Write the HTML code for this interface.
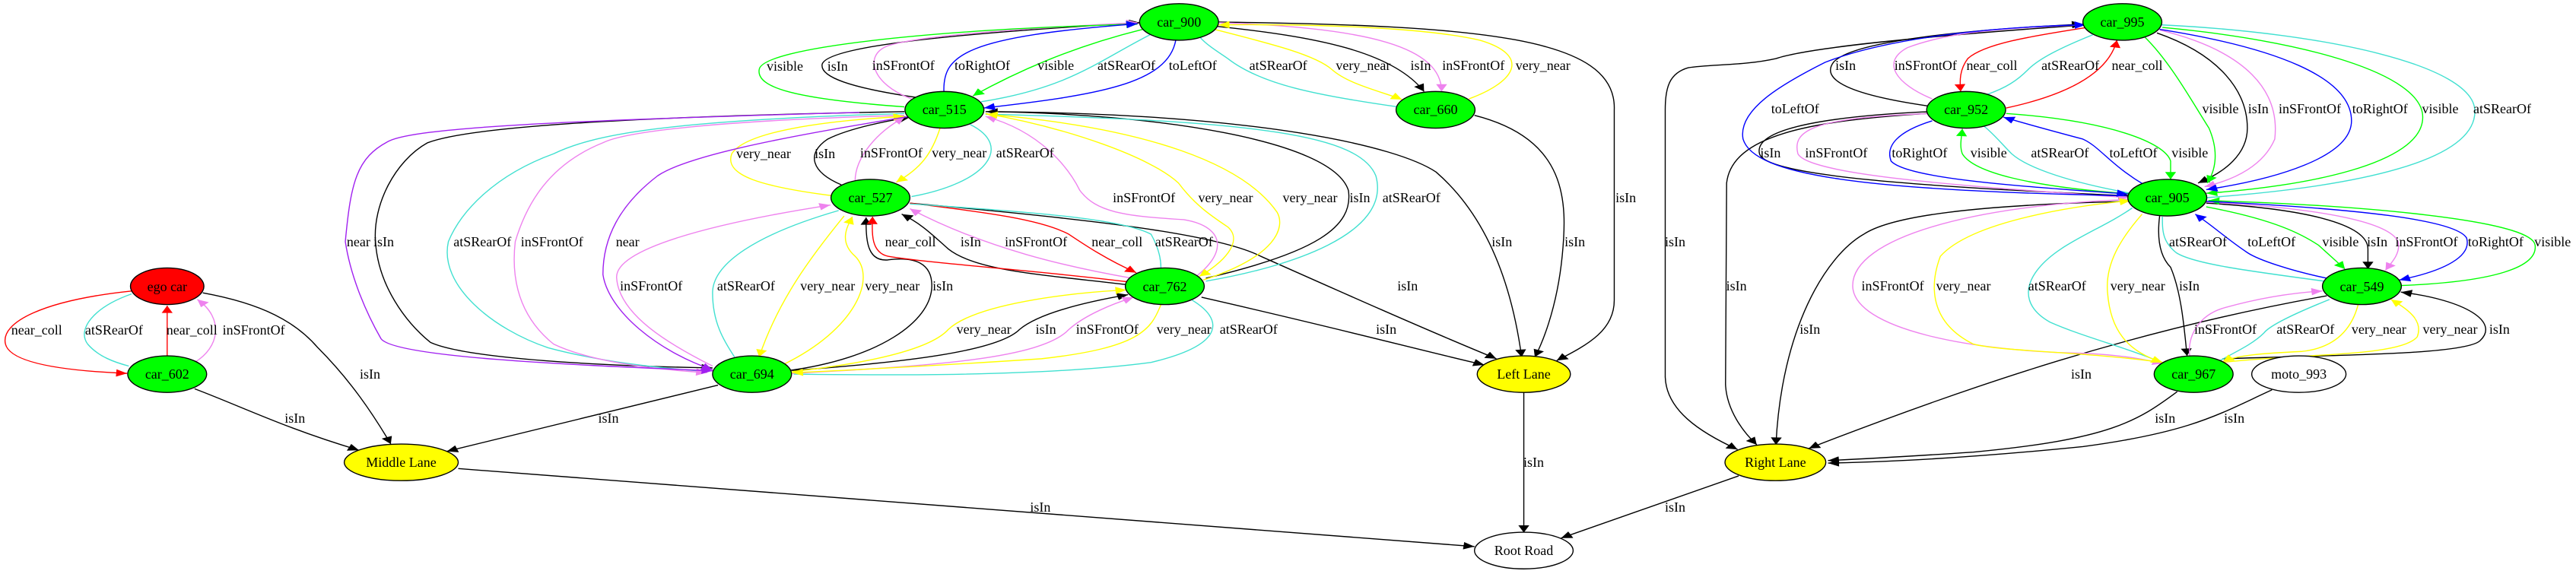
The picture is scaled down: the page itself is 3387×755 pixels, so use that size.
<!DOCTYPE html>
<html><head><meta charset="utf-8"><style>
html,body{margin:0;padding:0;background:#fff;}
#c{position:relative;width:3387px;height:755px;overflow:hidden;background:#fff;}
svg{position:absolute;left:0;top:0;}
.l{position:absolute;left:calc(var(--x)*0.7207px);top:calc(var(--y)*0.4815px);transform:translate(-50%,-50%);font-family:"Liberation Serif",serif;font-size:18px;color:#000;white-space:nowrap;line-height:1;}
</style></head><body><div id="c">
<svg width="3387" height="755" viewBox="0 0 3387 755">
<defs>
<marker id="k" markerUnits="userSpaceOnUse" viewBox="0 0 10 10" refX="10" refY="5" markerWidth="22" markerHeight="20" orient="auto"><path d="M0,0L10,5L0,10z" fill="#000"/></marker>
<marker id="r" markerUnits="userSpaceOnUse" viewBox="0 0 10 10" refX="10" refY="5" markerWidth="22" markerHeight="20" orient="auto"><path d="M0,0L10,5L0,10z" fill="#f00"/></marker>
<marker id="c" markerUnits="userSpaceOnUse" viewBox="0 0 10 10" refX="10" refY="5" markerWidth="22" markerHeight="20" orient="auto"><path d="M0,0L10,5L0,10z" fill="#40e0d0"/></marker>
<marker id="v" markerUnits="userSpaceOnUse" viewBox="0 0 10 10" refX="10" refY="5" markerWidth="22" markerHeight="20" orient="auto"><path d="M0,0L10,5L0,10z" fill="#ee82ee"/></marker>
<marker id="y" markerUnits="userSpaceOnUse" viewBox="0 0 10 10" refX="10" refY="5" markerWidth="22" markerHeight="20" orient="auto"><path d="M0,0L10,5L0,10z" fill="#ff0"/></marker>
<marker id="g" markerUnits="userSpaceOnUse" viewBox="0 0 10 10" refX="10" refY="5" markerWidth="22" markerHeight="20" orient="auto"><path d="M0,0L10,5L0,10z" fill="#0f0"/></marker>
<marker id="b" markerUnits="userSpaceOnUse" viewBox="0 0 10 10" refX="10" refY="5" markerWidth="22" markerHeight="20" orient="auto"><path d="M0,0L10,5L0,10z" fill="#00f"/></marker>
<marker id="p" markerUnits="userSpaceOnUse" viewBox="0 0 10 10" refX="10" refY="5" markerWidth="22" markerHeight="20" orient="auto"><path d="M0,0L10,5L0,10z" fill="#a020f0"/></marker>
</defs>
<g transform="scale(0.7207,0.4815)" fill="none" stroke-width="1.4">
<g stroke="#000" marker-end="url(#k)">
<path vector-effect="non-scaling-stroke" d="M370,800 C480,830 540,880 580,950 C640,1040 680,1130 713,1213"/>
<path vector-effect="non-scaling-stroke" d="M355,1062 C440,1110 520,1170 655,1230"/>
<path vector-effect="non-scaling-stroke" d="M1310,1052 L815,1233"/>
<path vector-effect="non-scaling-stroke" d="M836,1280 L2690,1493"/>
<path vector-effect="non-scaling-stroke" d="M1680,268 C1550,240 1495,210 1500,175 C1510,130 1700,95 2080,62"/>
<path vector-effect="non-scaling-stroke" d="M2220,72 C2400,100 2540,140 2598,250"/>
<path vector-effect="non-scaling-stroke" d="M2222,60 C2700,70 2950,100 2945,300 L2945,820 C2945,900 2900,940 2840,985"/>
<path vector-effect="non-scaling-stroke" d="M2690,315 C2860,380 2860,550 2850,700 C2840,850 2810,950 2800,975"/>
<path vector-effect="non-scaling-stroke" d="M1798,305 C2300,310 2550,400 2620,470 C2720,600 2760,800 2776,975"/>
<path vector-effect="non-scaling-stroke" d="M1660,555 C2000,600 2220,640 2300,700 C2450,800 2600,900 2730,980"/>
<path vector-effect="non-scaling-stroke" d="M2192,812 C2450,900 2600,960 2708,997"/>
<path vector-effect="non-scaling-stroke" d="M2780,1072 L2780,1455"/>
<path vector-effect="non-scaling-stroke" d="M2200,760 C2400,690 2470,620 2460,520 C2430,380 2100,310 1800,305"/>
<path vector-effect="non-scaling-stroke" d="M1535,505 C1480,470 1470,420 1510,380 C1550,350 1620,330 1660,320"/>
<path vector-effect="non-scaling-stroke" d="M2058,778 C1900,750 1780,740 1730,680 C1700,640 1680,610 1645,585"/>
<path vector-effect="non-scaling-stroke" d="M1440,1012 C1600,980 1700,880 1700,780 C1700,720 1670,700 1620,710 C1580,715 1580,650 1580,594"/>
<path vector-effect="non-scaling-stroke" d="M1445,1012 C1650,990 1820,960 1860,900 C1900,850 2000,820 2058,805"/>
<path vector-effect="non-scaling-stroke" d="M1650,305 C1100,320 850,350 780,390 C720,440 680,560 685,660 C690,780 740,880 785,935 C850,980 1100,1000 1300,1005"/>
<path vector-effect="non-scaling-stroke" d="M3805,68 C3500,100 3300,130 3240,160 C3180,180 3120,175 3080,185 C3045,200 3038,240 3038,300 L3038,1030 C3040,1120 3100,1180 3170,1228"/>
<path vector-effect="non-scaling-stroke" d="M3172,1300 L2848,1470"/>
<path vector-effect="non-scaling-stroke" d="M3520,290 C3380,260 3320,220 3345,170 C3380,110 3600,80 3800,66"/>
<path vector-effect="non-scaling-stroke" d="M3520,305 C3300,320 3200,360 3210,420 C3220,480 3500,510 3885,535"/>
<path vector-effect="non-scaling-stroke" d="M3515,310 C3300,330 3160,370 3150,500 L3148,1050 C3150,1120 3180,1180 3205,1215"/>
<path vector-effect="non-scaling-stroke" d="M3935,90 C4050,150 4100,250 4100,350 C4100,420 4060,470 4010,500"/>
<path vector-effect="non-scaling-stroke" d="M3885,550 C3600,560 3450,590 3400,640 C3330,700 3250,900 3240,1215"/>
<path vector-effect="non-scaling-stroke" d="M3940,590 C3935,650 3940,700 3960,730 C3980,800 3985,900 3990,972"/>
<path vector-effect="non-scaling-stroke" d="M4025,555 C4200,570 4320,610 4320,680 L4320,735"/>
<path vector-effect="non-scaling-stroke" d="M4055,980 C4250,970 4500,970 4525,930 C4560,880 4500,820 4380,798"/>
<path vector-effect="non-scaling-stroke" d="M4245,808 C3900,900 3600,1050 3300,1225"/>
<path vector-effect="non-scaling-stroke" d="M3972,1070 C3900,1150 3850,1200 3600,1235 C3450,1250 3380,1255 3335,1258"/>
<path vector-effect="non-scaling-stroke" d="M4145,1065 C4050,1130 4000,1180 3800,1220 C3600,1250 3450,1262 3335,1265"/>
</g>
<g stroke="#f00" marker-end="url(#r)">
<path vector-effect="non-scaling-stroke" d="M240,795 C80,820 0,880 10,940 C20,1000 150,1015 232,1020"/>
<path vector-effect="non-scaling-stroke" d="M305,975 L305,835"/>
<path vector-effect="non-scaling-stroke" d="M2058,770 C1900,740 1700,720 1620,700 C1590,690 1590,640 1592,592"/>
<path vector-effect="non-scaling-stroke" d="M1660,555 C1800,580 1900,600 1950,640 C1980,670 2020,710 2073,745"/>
<path vector-effect="non-scaling-stroke" d="M3808,75 C3700,100 3620,120 3590,160 C3575,190 3575,220 3577,250"/>
<path vector-effect="non-scaling-stroke" d="M3660,295 C3800,250 3850,180 3862,110"/>
</g>
<g stroke="#40e0d0" marker-end="url(#c)">
<path vector-effect="non-scaling-stroke" d="M240,803 C170,840 140,900 160,940 C180,975 210,990 235,1000"/>
<path vector-effect="non-scaling-stroke" d="M2098,95 C2000,170 1950,240 1790,278"/>
<path vector-effect="non-scaling-stroke" d="M2550,292 C2400,260 2300,230 2240,160 C2215,135 2200,120 2190,103"/>
<path vector-effect="non-scaling-stroke" d="M1798,312 C2300,330 2480,370 2510,480 C2540,640 2350,730 2200,768"/>
<path vector-effect="non-scaling-stroke" d="M1770,340 C1850,400 1800,500 1663,537"/>
<path vector-effect="non-scaling-stroke" d="M1660,557 C1900,580 2050,600 2100,640 C2115,680 2118,710 2118,732"/>
<path vector-effect="non-scaling-stroke" d="M1530,575 C1380,640 1300,720 1300,800 C1300,880 1320,930 1340,975"/>
<path vector-effect="non-scaling-stroke" d="M2175,820 C2230,870 2240,940 2100,990 C1900,1030 1600,1025 1448,1022"/>
<path vector-effect="non-scaling-stroke" d="M1650,310 C1200,330 1080,370 1010,420 C900,480 840,580 818,660 C800,780 900,900 1000,950 C1100,990 1200,1005 1290,1015"/>
<path vector-effect="non-scaling-stroke" d="M3818,95 C3760,130 3720,160 3700,190 C3680,220 3660,240 3625,258"/>
<path vector-effect="non-scaling-stroke" d="M3895,530 C3780,500 3700,460 3670,420 C3650,390 3640,370 3620,345"/>
<path vector-effect="non-scaling-stroke" d="M4025,540 C4300,510 4520,440 4515,300 C4510,180 4250,90 3944,68"/>
<path vector-effect="non-scaling-stroke" d="M3935,985 C3880,950 3800,920 3740,880 C3680,830 3690,750 3760,680 C3800,640 3850,610 3890,568"/>
<path vector-effect="non-scaling-stroke" d="M4240,768 C4100,740 4000,720 3970,690 C3945,660 3945,630 3945,592"/>
<path vector-effect="non-scaling-stroke" d="M4250,818 C4180,860 4140,890 4130,910 C4110,940 4080,960 4050,985"/>
</g>
<g stroke="#ee82ee" marker-end="url(#v)">
<path vector-effect="non-scaling-stroke" d="M355,990 C400,950 410,870 360,818"/>
<path vector-effect="non-scaling-stroke" d="M1663,270 C1590,230 1575,150 1620,125 C1680,95 1900,75 2075,62"/>
<path vector-effect="non-scaling-stroke" d="M2222,62 C2500,75 2630,130 2630,250"/>
<path vector-effect="non-scaling-stroke" d="M2168,770 C2240,700 2240,620 2160,600 C2050,590 2000,580 1970,520 C1950,460 1900,360 1798,318"/>
<path vector-effect="non-scaling-stroke" d="M1560,495 C1560,430 1600,360 1650,320"/>
<path vector-effect="non-scaling-stroke" d="M2065,760 C1950,730 1800,680 1660,570"/>
<path vector-effect="non-scaling-stroke" d="M1300,1000 C1220,940 1130,860 1125,760 C1120,680 1300,610 1515,560"/>
<path vector-effect="non-scaling-stroke" d="M1445,1020 C1700,1000 1900,980 1950,900 C1980,860 2030,830 2068,812"/>
<path vector-effect="non-scaling-stroke" d="M1650,315 C1300,330 1140,360 1100,390 C1000,450 960,560 940,660 C930,790 960,880 1010,940 C1080,990 1200,1010 1290,1018"/>
<path vector-effect="non-scaling-stroke" d="M3525,270 C3460,230 3430,170 3480,130 C3550,90 3650,75 3805,68"/>
<path vector-effect="non-scaling-stroke" d="M3525,310 C3300,320 3270,360 3280,420 C3300,480 3600,510 3885,540"/>
<path vector-effect="non-scaling-stroke" d="M3940,82 C4100,140 4160,250 4150,380 C4130,450 4080,490 4022,510"/>
<path vector-effect="non-scaling-stroke" d="M3885,545 C3600,560 3380,650 3380,780 C3380,900 3600,960 3800,965 C3880,970 3920,985 3947,993"/>
<path vector-effect="non-scaling-stroke" d="M4025,552 C4250,570 4360,610 4375,660 C4380,690 4365,715 4352,738"/>
<path vector-effect="non-scaling-stroke" d="M3995,975 C3990,920 4010,860 4060,840 C4120,815 4180,800 4237,795"/>
</g>
<g stroke="#ff0" marker-end="url(#y)">
<path vector-effect="non-scaling-stroke" d="M2215,80 C2320,120 2400,150 2430,190 C2460,230 2520,250 2558,272"/>
<path vector-effect="non-scaling-stroke" d="M2680,270 C2770,220 2790,150 2700,110 C2600,75 2400,65 2223,68"/>
<path vector-effect="non-scaling-stroke" d="M1798,310 C1950,350 2100,430 2150,500 C2180,560 2210,590 2240,620 C2270,660 2230,720 2188,755"/>
<path vector-effect="non-scaling-stroke" d="M2195,765 C2330,700 2345,620 2330,580 C2270,450 2100,350 1800,312"/>
<path vector-effect="non-scaling-stroke" d="M1715,350 C1700,420 1680,460 1635,498"/>
<path vector-effect="non-scaling-stroke" d="M1520,535 C1390,510 1320,480 1335,420 C1360,360 1500,330 1650,318"/>
<path vector-effect="non-scaling-stroke" d="M1540,590 C1480,700 1420,820 1385,975"/>
<path vector-effect="non-scaling-stroke" d="M1430,995 C1560,900 1600,760 1560,700 C1530,660 1545,620 1555,592"/>
<path vector-effect="non-scaling-stroke" d="M1445,1015 C1600,990 1700,950 1730,900 C1780,830 1950,800 2055,792"/>
<path vector-effect="non-scaling-stroke" d="M2118,832 C2100,900 2080,950 1900,980 C1700,1000 1500,1015 1445,1018"/>
<path vector-effect="non-scaling-stroke" d="M3945,990 C3800,960 3650,960 3600,940 C3520,880 3520,780 3540,700 C3600,600 3800,560 3887,548"/>
<path vector-effect="non-scaling-stroke" d="M3908,585 C3870,650 3840,720 3845,800 C3850,900 3880,960 3945,990"/>
<path vector-effect="non-scaling-stroke" d="M4302,833 C4290,900 4260,950 4200,960 C4130,965 4080,970 4055,988"/>
<path vector-effect="non-scaling-stroke" d="M4055,990 C4200,965 4380,975 4410,920 C4420,880 4400,850 4362,818"/>
</g>
<g stroke="#0f0" marker-end="url(#g)">
<path vector-effect="non-scaling-stroke" d="M1650,292 C1450,270 1380,240 1385,190 C1390,130 1700,80 2075,66"/>
<path vector-effect="non-scaling-stroke" d="M2085,80 C1950,130 1850,200 1775,262"/>
<path vector-effect="non-scaling-stroke" d="M3890,530 C3700,510 3600,470 3580,420 C3575,400 3578,380 3580,352"/>
<path vector-effect="non-scaling-stroke" d="M3660,310 C3850,330 3950,390 3960,440 L3960,490"/>
<path vector-effect="non-scaling-stroke" d="M3912,100 C3960,170 4000,280 4030,350 C4050,420 4040,470 4027,500"/>
<path vector-effect="non-scaling-stroke" d="M3945,75 C4200,110 4420,200 4420,320 C4420,450 4200,510 4025,528"/>
<path vector-effect="non-scaling-stroke" d="M4025,565 C4150,600 4200,640 4230,670 L4278,735"/>
<path vector-effect="non-scaling-stroke" d="M4380,780 C4550,770 4630,730 4625,670 C4620,600 4300,560 4029,548"/>
</g>
<g stroke="#00f" marker-end="url(#b)">
<path vector-effect="non-scaling-stroke" d="M1722,250 C1720,150 1760,100 2075,65"/>
<path vector-effect="non-scaling-stroke" d="M2145,110 C2130,230 2000,260 1795,295"/>
<path vector-effect="non-scaling-stroke" d="M3880,535 C3400,520 3200,480 3180,380 C3170,300 3250,230 3330,170 C3450,100 3650,72 3805,68"/>
<path vector-effect="non-scaling-stroke" d="M3525,330 C3460,360 3440,400 3450,440 C3480,490 3700,510 3882,530"/>
<path vector-effect="non-scaling-stroke" d="M3912,505 C3850,450 3830,400 3800,380 C3750,360 3700,340 3655,320"/>
<path vector-effect="non-scaling-stroke" d="M3940,80 C4150,130 4290,210 4290,330 C4290,430 4150,490 4025,518"/>
<path vector-effect="non-scaling-stroke" d="M4245,760 C4180,740 4120,710 4100,690 C4060,650 4040,620 4005,585"/>
<path vector-effect="non-scaling-stroke" d="M4025,550 C4300,570 4480,600 4500,650 C4510,700 4460,740 4377,765"/>
</g>
<g stroke="#a020f0" marker-end="url(#p)">
<path vector-effect="non-scaling-stroke" d="M1568,307 C1000,330 760,350 710,385 C650,430 640,500 630,660 C640,760 670,860 695,925 C720,980 1100,1000 1300,1013"/>
<path vector-effect="non-scaling-stroke" d="M1660,318 C1400,380 1250,430 1200,480 C1130,560 1100,650 1100,750 C1110,850 1200,960 1300,1010"/>
</g>
<g stroke="#000">
<ellipse vector-effect="non-scaling-stroke" cx="305" cy="782" rx="67" ry="50" fill="#f00"/>
<ellipse vector-effect="non-scaling-stroke" cx="305" cy="1022" rx="72" ry="50" fill="#0f0"/>
<ellipse vector-effect="non-scaling-stroke" cx="732" cy="1263" rx="104" ry="50" fill="#ff0"/>
<ellipse vector-effect="non-scaling-stroke" cx="1372" cy="1022" rx="72" ry="50" fill="#0f0"/>
<ellipse vector-effect="non-scaling-stroke" cx="2151" cy="60" rx="72" ry="50" fill="#0f0"/>
<ellipse vector-effect="non-scaling-stroke" cx="1723" cy="300" rx="72" ry="50" fill="#0f0"/>
<ellipse vector-effect="non-scaling-stroke" cx="1588" cy="540" rx="72" ry="50" fill="#0f0"/>
<ellipse vector-effect="non-scaling-stroke" cx="2619" cy="300" rx="72" ry="50" fill="#0f0"/>
<ellipse vector-effect="non-scaling-stroke" cx="2125" cy="782" rx="72" ry="50" fill="#0f0"/>
<ellipse vector-effect="non-scaling-stroke" cx="2780" cy="1022" rx="85" ry="50" fill="#ff0"/>
<ellipse vector-effect="non-scaling-stroke" cx="2780" cy="1504" rx="90" ry="50" fill="#fff"/>
<ellipse vector-effect="non-scaling-stroke" cx="3872" cy="60" rx="72" ry="50" fill="#0f0"/>
<ellipse vector-effect="non-scaling-stroke" cx="3587" cy="300" rx="72" ry="50" fill="#0f0"/>
<ellipse vector-effect="non-scaling-stroke" cx="3954" cy="540" rx="72" ry="50" fill="#0f0"/>
<ellipse vector-effect="non-scaling-stroke" cx="4309" cy="782" rx="72" ry="50" fill="#0f0"/>
<ellipse vector-effect="non-scaling-stroke" cx="4002" cy="1022" rx="72" ry="50" fill="#0f0"/>
<ellipse vector-effect="non-scaling-stroke" cx="4194" cy="1022" rx="86" ry="50" fill="#fff"/>
<ellipse vector-effect="non-scaling-stroke" cx="3239" cy="1263" rx="92" ry="50" fill="#ff0"/>
</g>
</g>
</svg>
<!-- node labels -->
<span class="l" style="--x:305;--y:782">ego car</span>
<span class="l" style="--x:305;--y:1022">car_602</span>
<span class="l" style="--x:732;--y:1263">Middle Lane</span>
<span class="l" style="--x:1372;--y:1022">car_694</span>
<span class="l" style="--x:2151;--y:60">car_900</span>
<span class="l" style="--x:1723;--y:300">car_515</span>
<span class="l" style="--x:1588;--y:540">car_527</span>
<span class="l" style="--x:2619;--y:300">car_660</span>
<span class="l" style="--x:2125;--y:782">car_762</span>
<span class="l" style="--x:2780;--y:1022">Left Lane</span>
<span class="l" style="--x:2780;--y:1504">Root Road</span>
<span class="l" style="--x:3872;--y:60">car_995</span>
<span class="l" style="--x:3587;--y:300">car_952</span>
<span class="l" style="--x:3954;--y:540">car_905</span>
<span class="l" style="--x:4309;--y:782">car_549</span>
<span class="l" style="--x:4002;--y:1022">car_967</span>
<span class="l" style="--x:4194;--y:1022">moto_993</span>
<span class="l" style="--x:3239;--y:1263">Right Lane</span>
<!-- edge labels -->
<span class="l" style="--x:67;--y:902">near_coll</span>
<span class="l" style="--x:208;--y:902">atSRearOf</span>
<span class="l" style="--x:350;--y:902">near_coll</span>
<span class="l" style="--x:463;--y:902">inSFrontOf</span>
<span class="l" style="--x:675;--y:1022">isIn</span>
<span class="l" style="--x:538;--y:1142">isIn</span>
<span class="l" style="--x:1110;--y:1142">isIn</span>
<span class="l" style="--x:1432;--y:180">visible</span>
<span class="l" style="--x:1528;--y:180">isIn</span>
<span class="l" style="--x:654;--y:660">near</span>
<span class="l" style="--x:700;--y:660">isIn</span>
<span class="l" style="--x:880;--y:660">atSRearOf</span>
<span class="l" style="--x:1007;--y:660">inSFrontOf</span>
<span class="l" style="--x:1145;--y:660">near</span>
<span class="l" style="--x:1393;--y:420">very_near</span>
<span class="l" style="--x:1505;--y:420">isIn</span>
<span class="l" style="--x:1188;--y:780">inSFrontOf</span>
<span class="l" style="--x:1361;--y:780">atSRearOf</span>
<span class="l" style="--x:1510;--y:780">very_near</span>
<span class="l" style="--x:1648;--y:178">inSFrontOf</span>
<span class="l" style="--x:1792;--y:178">toRightOf</span>
<span class="l" style="--x:1926;--y:178">visible</span>
<span class="l" style="--x:2055;--y:178">atSRearOf</span>
<span class="l" style="--x:2176;--y:178">toLeftOf</span>
<span class="l" style="--x:2332;--y:178">atSRearOf</span>
<span class="l" style="--x:2487;--y:178">very_near</span>
<span class="l" style="--x:2592;--y:178">isIn</span>
<span class="l" style="--x:2688;--y:178">inSFrontOf</span>
<span class="l" style="--x:2815;--y:178">very_near</span>
<span class="l" style="--x:1626;--y:418">inSFrontOf</span>
<span class="l" style="--x:1750;--y:418">very_near</span>
<span class="l" style="--x:1870;--y:418">atSRearOf</span>
<span class="l" style="--x:2087;--y:540">inSFrontOf</span>
<span class="l" style="--x:2236;--y:540">very_near</span>
<span class="l" style="--x:2390;--y:540">very_near</span>
<span class="l" style="--x:2481;--y:540">isIn</span>
<span class="l" style="--x:2575;--y:540">atSRearOf</span>
<span class="l" style="--x:2966;--y:540">isIn</span>
<span class="l" style="--x:1661;--y:660">near_coll</span>
<span class="l" style="--x:1771;--y:660">isIn</span>
<span class="l" style="--x:1890;--y:660">inSFrontOf</span>
<span class="l" style="--x:2038;--y:660">near_coll</span>
<span class="l" style="--x:2160;--y:660">atSRearOf</span>
<span class="l" style="--x:2740;--y:660">isIn</span>
<span class="l" style="--x:2873;--y:660">isIn</span>
<span class="l" style="--x:3056;--y:660">isIn</span>
<span class="l" style="--x:1628;--y:780">very_near</span>
<span class="l" style="--x:1720;--y:780">isIn</span>
<span class="l" style="--x:2568;--y:780">isIn</span>
<span class="l" style="--x:1795;--y:900">very_near</span>
<span class="l" style="--x:1908;--y:900">isIn</span>
<span class="l" style="--x:2020;--y:900">inSFrontOf</span>
<span class="l" style="--x:2160;--y:900">very_near</span>
<span class="l" style="--x:2278;--y:900">atSRearOf</span>
<span class="l" style="--x:2529;--y:900">isIn</span>
<span class="l" style="--x:2798;--y:1262">isIn</span>
<span class="l" style="--x:1898;--y:1385">isIn</span>
<span class="l" style="--x:3056;--y:1385">isIn</span>
<span class="l" style="--x:3367;--y:178">isIn</span>
<span class="l" style="--x:3513;--y:178">inSFrontOf</span>
<span class="l" style="--x:3634;--y:178">near_coll</span>
<span class="l" style="--x:3777;--y:178">atSRearOf</span>
<span class="l" style="--x:3899;--y:178">near_coll</span>
<span class="l" style="--x:3275;--y:298">toLeftOf</span>
<span class="l" style="--x:4051;--y:298">visible</span>
<span class="l" style="--x:4120;--y:298">isIn</span>
<span class="l" style="--x:4214;--y:298">inSFrontOf</span>
<span class="l" style="--x:4342;--y:298">toRightOf</span>
<span class="l" style="--x:4452;--y:298">visible</span>
<span class="l" style="--x:4565;--y:298">atSRearOf</span>
<span class="l" style="--x:3230;--y:418">isIn</span>
<span class="l" style="--x:3350;--y:418">inSFrontOf</span>
<span class="l" style="--x:3502;--y:418">toRightOf</span>
<span class="l" style="--x:3628;--y:418">visible</span>
<span class="l" style="--x:3758;--y:418">atSRearOf</span>
<span class="l" style="--x:3892;--y:418">toLeftOf</span>
<span class="l" style="--x:3995;--y:418">visible</span>
<span class="l" style="--x:4010;--y:660">atSRearOf</span>
<span class="l" style="--x:4144;--y:660">toLeftOf</span>
<span class="l" style="--x:4270;--y:660">visible</span>
<span class="l" style="--x:4337;--y:660">isIn</span>
<span class="l" style="--x:4427;--y:660">inSFrontOf</span>
<span class="l" style="--x:4553;--y:660">toRightOf</span>
<span class="l" style="--x:4657;--y:660">visible</span>
<span class="l" style="--x:3168;--y:780">isIn</span>
<span class="l" style="--x:3453;--y:780">inSFrontOf</span>
<span class="l" style="--x:3582;--y:780">very_near</span>
<span class="l" style="--x:3753;--y:780">atSRearOf</span>
<span class="l" style="--x:3900;--y:780">very_near</span>
<span class="l" style="--x:3994;--y:780">isIn</span>
<span class="l" style="--x:3302;--y:900">isIn</span>
<span class="l" style="--x:4060;--y:900">inSFrontOf</span>
<span class="l" style="--x:4206;--y:900">atSRearOf</span>
<span class="l" style="--x:4340;--y:900">very_near</span>
<span class="l" style="--x:4470;--y:900">very_near</span>
<span class="l" style="--x:4560;--y:900">isIn</span>
<span class="l" style="--x:3797;--y:1022">isIn</span>
<span class="l" style="--x:3950;--y:1142">isIn</span>
<span class="l" style="--x:4076;--y:1142">isIn</span>
</div></body></html>
